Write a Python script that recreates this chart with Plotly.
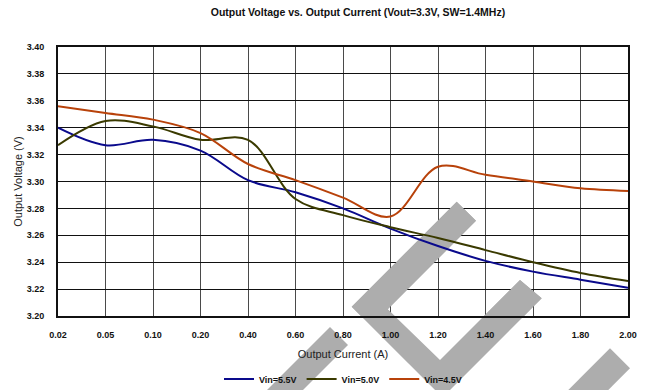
import plotly.graph_objects as go

# ---------------- data ----------------
currents = ["0.02", "0.05", "0.10", "0.20", "0.40", "0.60", "0.80",
            "1.00", "1.20", "1.40", "1.60", "1.80", "2.00"]
vin_55 = [3.340, 3.327, 3.331, 3.323, 3.301, 3.292, 3.280,
          3.265, 3.252, 3.241, 3.233, 3.227, 3.221]
vin_50 = [3.327, 3.345, 3.341, 3.331, 3.331, 3.287, 3.275,
          3.266, 3.258, 3.249, 3.240, 3.232, 3.226]
vin_45 = [3.356, 3.351, 3.346, 3.336, 3.313, 3.301, 3.288,
          3.274, 3.311, 3.305, 3.300, 3.295, 3.293]
y_tick_vals = [3.20, 3.22, 3.24, 3.26, 3.28, 3.30, 3.32, 3.34, 3.36, 3.38, 3.40]
y_tick_text = ["3.20", "3.22", "3.24", "3.26", "3.28", "3.30",
               "3.32", "3.34", "3.36", "3.38", "3.40"]
series_names = ["Vin=5.5V", "Vin=5.0V", "Vin=4.5V"]
series_colors = ["#0A0A8C", "#3A3A00", "#B8420A"]

# ---------------- styling ----------------
W, H = 655, 390
ML, MR, MT, MB = 58, 27, 47, 74
PW, PH = W - ML - MR, H - MT - MB
FONT = "Liberation Sans, Arial, sans-serif"

# watermark polygons (pixel coordinates in the figure) - decoration only
watermark_px = [
    [(456.7, 201.7), (476.0, 220.7), (387.7, 309.3), (440.0, 360.0),
     (520.0, 280.0), (541.7, 298.3), (442.5, 397.5), (351.7, 306.7)],
    [(330.0, 327.0), (348.0, 345.0), (293.0, 400.0), (257.0, 400.0)],
    [(610.0, 348.3), (630.0, 368.3), (598.3, 400.0), (558.3, 400.0)],
]
WM_COLOR = "#ADADAD"

fig = go.Figure()
for name, vals, col in zip(series_names, [vin_55, vin_50, vin_45], series_colors):
    fig.add_trace(go.Scatter(
        x=currents, y=vals, name=name, mode="lines",
        line=dict(color=col, width=2, shape="spline", smoothing=1.0),
    ))

n = len(currents)
ymin, ymax = y_tick_vals[0], y_tick_vals[-1]


def px_to_paper(p):
    return (p[0] - ML) / PW, (H - MB - p[1]) / PH


def px_to_data(p):
    xi = (p[0] - ML) / PW * (n - 1)
    yv = ymin + (H - MB - p[1]) / PH * (ymax - ymin)
    return xi, yv


shapes = []
for poly in watermark_px:
    pp = [px_to_paper(p) for p in poly]
    path = "M " + " L ".join(f"{a:.4f},{b:.4f}" for a, b in pp) + " Z"
    shapes.append(dict(type="path", xref="paper", yref="paper", path=path,
                       fillcolor=WM_COLOR, line=dict(width=0), layer="below"))
    dd = [px_to_data(p) for p in poly]
    path2 = "M " + " L ".join(f"{a:.4f},{b:.5f}" for a, b in dd) + " Z"
    shapes.append(dict(type="path", xref="x", yref="y", path=path2,
                       fillcolor=WM_COLOR, line=dict(width=0), layer="between"))

fig.update_layout(
    width=W, height=H,
    margin=dict(l=ML, r=MR, t=MT, b=MB, pad=0, autoexpand=False),
    paper_bgcolor="white", plot_bgcolor="white",
    font=dict(family=FONT, color="#111111"),
    title=dict(text="<b>Output Voltage vs. Output Current (Vout=3.3V, SW=1.4MHz)</b>",
               x=358 / W, xanchor="center", y=1 - 12 / H, yanchor="middle",
               font=dict(size=10.5, family=FONT, color="#111111")),
    showlegend=True,
    legend=dict(orientation="h", x=343 / W, xanchor="center", xref="container",
                y=1 - 379 / H, yanchor="middle", yref="container",
                bgcolor="rgba(0,0,0,0)",
                font=dict(size=9, family=FONT, color="#111111", weight="bold"),
                itemwidth=30, tracegroupgap=0),
    shapes=shapes,
)

fig.update_xaxes(
    type="category", range=[0, n - 1], automargin=False,
    showgrid=True, gridcolor="#4a4a4a", gridwidth=1,
    showline=True, linecolor="#111111", linewidth=2, mirror=True,
    ticks="", ticklabelstandoff=9,
    tickfont=dict(size=9, family=FONT, color="#111111", weight="bold"),
    title=dict(text="Output Current (A)", standoff=12,
               font=dict(size=11, family=FONT, color="#222222")),
    zeroline=False,
)
fig.update_yaxes(
    range=[ymin, ymax], tickvals=y_tick_vals, ticktext=y_tick_text,
    automargin=False,
    showgrid=True, gridcolor="#111111", gridwidth=1,
    showline=True, linecolor="#111111", linewidth=2, mirror=True,
    ticks="", ticklabelstandoff=10,
    tickfont=dict(size=9, family=FONT, color="#111111", weight="bold"),
    title=dict(text="Output Voltage (V)", standoff=2,
               font=dict(size=11, family=FONT, color="#222222")),
    zeroline=False,
)

fig.write_html(
    "out.html",
    config={"displayModeBar": False},
    post_script="document.body.style.margin='0';document.body.style.overflow='hidden';",
)
